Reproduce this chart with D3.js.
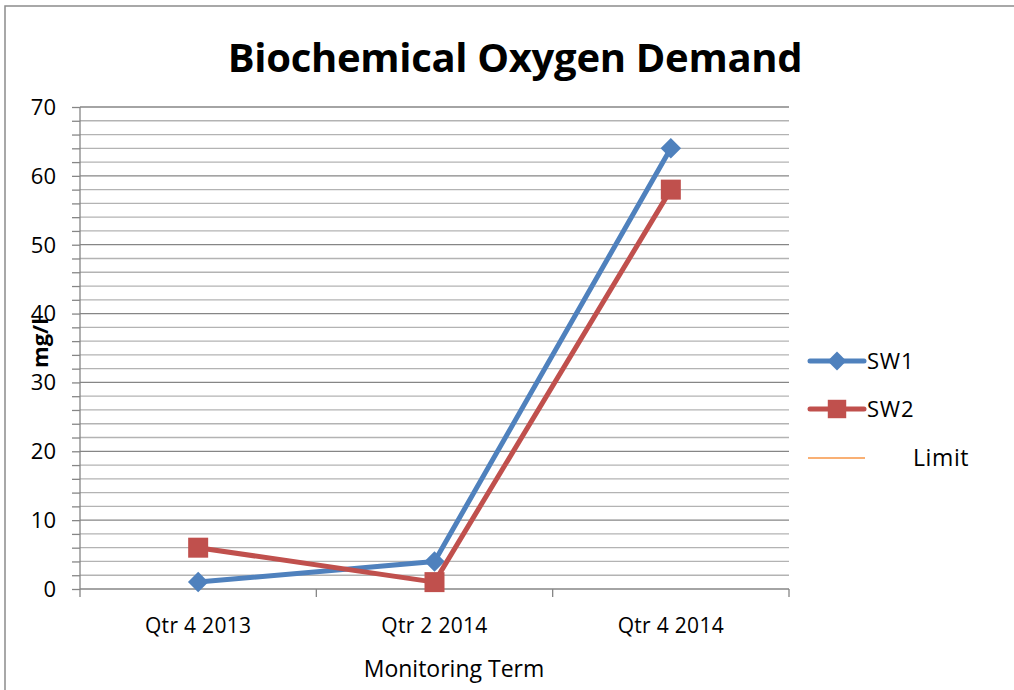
<!DOCTYPE html>
<html>
<head>
<meta charset="utf-8">
<script src="https://cdn.jsdelivr.net/npm/d3@7"></script>
<style>
  body { margin: 0; background: #fff; }
  text { font-family: "Open Sans", "Noto Sans", sans-serif; }
</style>
</head>
<body>
<script>
const categories = ["Qtr 4 2013", "Qtr 2 2014", "Qtr 4 2014"];
const sw1 = [1, 4, 64];
const sw2 = [6, 1, 58];
const limit = [];
const yTicks = [0, 10, 20, 30, 40, 50, 60, 70];

const width = 1014, height = 690;
const margin = {left: 80, right: 225, top: 107, bottom: 101};

const svg = d3.select('body').append('svg')
  .attr('width', width)
  .attr('height', height);

// chart border
svg.append('rect')
  .attr('x', 5).attr('y', 6)
  .attr('width', width + 10).attr('height', height + 10)
  .attr('fill', 'none')
  .attr('stroke', '#8c8c8c')
  .attr('stroke-width', 1.5);

const x = d3.scaleBand()
  .domain(categories)
  .range([margin.left, width - margin.right]);

const y = d3.scaleLinear()
  .domain([0, 70])
  .range([height - margin.bottom, margin.top]);

// gridlines (minor every 2, major every 10)
const gridVals = d3.range(2, 71, 2);
svg.append('g').selectAll('line')
  .data(gridVals)
  .join('line')
  .attr('x1', margin.left).attr('x2', width - margin.right)
  .attr('y1', d => y(d)).attr('y2', d => y(d))
  .attr('stroke', d => d % 10 === 0 ? '#868686' : '#b3b3b3')
  .attr('stroke-width', 1.3);

// y axis
const yAxis = svg.append('g')
  .attr('transform', `translate(${margin.left},0)`)
  .call(d3.axisLeft(y).tickValues(gridVals.concat([0])).tickSize(8).tickFormat(''));
yAxis.selectAll('line').attr('stroke', '#868686').attr('stroke-width', 1.3);
yAxis.select('.domain').attr('stroke', '#868686').attr('stroke-width', 1.3).attr('d', `M0,${y(0)}V${y(70)}`);

svg.append('g').selectAll('text')
  .data(yTicks)
  .join('text')
  .attr('x', 56)
  .attr('y', d => y(d))
  .attr('dy', '0.36em')
  .attr('text-anchor', 'end')
  .attr('font-size', 22)
  .attr('fill', '#000')
  .text(d => d);

// x axis
const xAxis = svg.append('g')
  .attr('transform', `translate(0,${y(0)})`);
xAxis.append('line')
  .attr('x1', margin.left).attr('x2', width - margin.right)
  .attr('stroke', '#868686').attr('stroke-width', 1.3);
const bounds = categories.map(c => x(c)).concat([x.range()[1]]);
xAxis.selectAll('.tk')
  .data(bounds)
  .join('line')
  .attr('class', 'tk')
  .attr('x1', d => d).attr('x2', d => d)
  .attr('y1', 0).attr('y2', 8)
  .attr('stroke', '#868686').attr('stroke-width', 1.3);
xAxis.selectAll('text')
  .data(categories)
  .join('text')
  .attr('x', d => x(d) + x.bandwidth() / 2)
  .attr('y', 44)
  .attr('text-anchor', 'middle')
  .attr('font-size', 21)
  .attr('letter-spacing', 0.3)
  .attr('fill', '#000')
  .text(d => d);

// axis titles
svg.append('text')
  .attr('x', 454).attr('y', 677)
  .attr('text-anchor', 'middle')
  .attr('font-size', 23)
  .text('Monitoring Term');

svg.append('text')
  .attr('transform', 'translate(48,343) rotate(-90)')
  .attr('text-anchor', 'middle')
  .attr('font-size', 22)
  .attr('font-weight', 'bold')
  .text('mg/l');

// title
svg.append('text')
  .attr('x', 515).attr('y', 72)
  .attr('text-anchor', 'middle')
  .attr('font-size', 40)
  .attr('font-weight', 'bold')
  .attr('letter-spacing', -0.3)
  .text('Biochemical Oxygen Demand');

// series
const cx = d => x(d) + x.bandwidth() / 2;
const line = d3.line()
  .x((d, i) => cx(categories[i]))
  .y(d => y(d));

const series = [
  {name: 'SW1', values: sw1, color: '#4f81bd', symbol: d3.symbolSquare, size: 210, rot: 45},
  {name: 'SW2', values: sw2, color: '#c0504d', symbol: d3.symbolSquare, size: 400, rot: 0}
];

series.forEach(s => {
  svg.append('path')
    .attr('d', line(s.values))
    .attr('fill', 'none')
    .attr('stroke', s.color)
    .attr('stroke-width', 5)
    .attr('stroke-linejoin', 'round');
  svg.append('g').selectAll('path')
    .data(s.values)
    .join('path')
    .attr('transform', (d, i) => `translate(${cx(categories[i])},${y(d)}) rotate(${s.rot})`)
    .attr('d', d3.symbol().type(s.symbol).size(s.size))
    .attr('fill', s.color);
});

// legend
const legend = svg.append('g');
series.forEach((s, i) => {
  const ly = 361 + i * 48;
  legend.append('line')
    .attr('x1', 810).attr('x2', 864)
    .attr('y1', ly).attr('y2', ly)
    .attr('stroke', s.color).attr('stroke-width', 5)
    .attr('stroke-linecap', 'round');
  legend.append('path')
    .attr('transform', `translate(837,${ly}) rotate(${s.rot})`)
    .attr('d', d3.symbol().type(s.symbol).size(s.size * 0.85))
    .attr('fill', s.color);
  legend.append('text')
    .attr('x', 867).attr('y', ly)
    .attr('dy', '0.36em')
    .attr('font-size', 22)
    .attr('letter-spacing', 0.8)
    .text(s.name);
});
legend.append('line')
  .attr('x1', 808).attr('x2', 865)
  .attr('y1', 458).attr('y2', 458)
  .attr('stroke', '#f79646').attr('stroke-width', 1.5);
legend.append('text')
  .attr('x', 913).attr('y', 458)
  .attr('dy', '0.36em')
  .attr('font-size', 23)
  .attr('letter-spacing', 0.6)
  .text('Limit');
</script>
</body>
</html>
